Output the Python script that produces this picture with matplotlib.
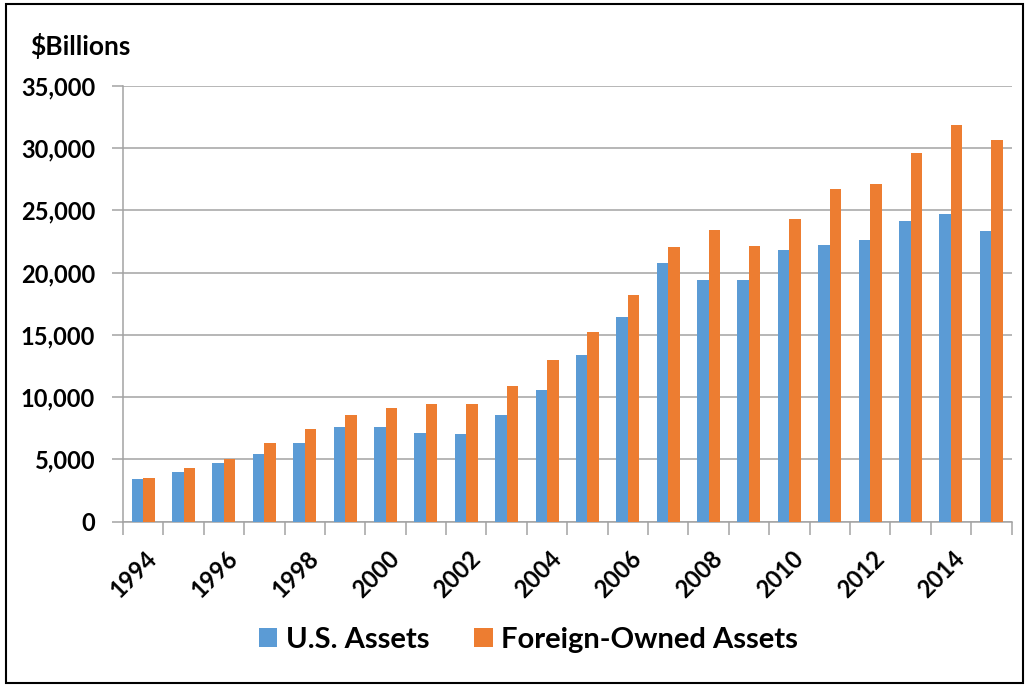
import matplotlib
matplotlib.use("Agg")
import matplotlib.pyplot as plt
from matplotlib.patches import Rectangle
import numpy as np

years = list(range(1994, 2016))
us_assets = [3400, 4010, 4730, 5460, 6290, 7600, 7600, 7100, 7010, 8540, 10590,
             13360, 16450, 20760, 19420, 19430, 21780, 22200, 22600, 24160, 24740, 23320]
foreign_assets = [3480, 4310, 5010, 6290, 7420, 8560, 9150, 9450, 9450, 10890, 12950,
                  15200, 18190, 22020, 23400, 22100, 24260, 26720, 27120, 29610, 31850, 30620]
yticks = [0, 5000, 10000, 15000, 20000, 25000, 30000, 35000]
series_names = ["U.S. Assets", "Foreign-Owned Assets"]

BLUE = "#5B9BD5"
ORANGE = "#ED7D31"
GRID = "#A3A3A3"

plt.rcParams['font.family'] = ['Lato', 'DejaVu Sans']
plt.rcParams['font.weight'] = 'bold'

W, H = 1031, 686
fig = plt.figure(figsize=(W / 100, H / 100), dpi=100)
ax = fig.add_axes([123 / W, 1 - 521.7 / H, (1011.5 - 123) / W, (521.7 - 85.7) / H])

x = np.arange(len(years))
bw = 0.285
ax.bar(x - bw / 2, us_assets, bw, color=BLUE, label=series_names[0], zorder=3)
ax.bar(x + bw / 2, foreign_assets, bw, color=ORANGE, label=series_names[1], zorder=3)

ax.set_xlim(-0.5, len(years) - 0.5)
ax.set_ylim(0, 35000)
ax.set_yticks(yticks)
ax.set_yticklabels([f"{v:,}" for v in yticks], fontsize=17, fontweight='bold')
ax.yaxis.grid(True, color=GRID, linewidth=1.1, zorder=0)
ax.tick_params(axis='y', length=8, width=1.1, color=GRID, pad=12)

# category boundary ticks
ax.set_xticks(np.arange(-0.5, len(years) + 0.5, 1.0))
ax.set_xticklabels([])
ax.tick_params(axis='x', which='major', length=9, width=1.1, color=GRID)
ax.set_xticks(x[::2] + 0.05, minor=True)
ax.set_xticklabels([str(y) for y in years[::2]], minor=True, rotation=45,
                   ha='right', va='top', rotation_mode='anchor',
                   fontsize=17, fontweight='bold')
ax.tick_params(axis='x', which='minor', length=0, pad=18)

for s in ['top', 'right']:
    ax.spines[s].set_visible(False)
for s in ['left', 'bottom']:
    ax.spines[s].set_color(GRID)
    ax.spines[s].set_linewidth(1.1)

fig.text(30 / W, 1 - 46 / H, "$Billions", fontsize=19, fontweight='bold',
         ha='left', va='center')

handles, labels = ax.get_legend_handles_labels()
fig.legend(handles, labels, loc='center', bbox_to_anchor=(528.5 / W, 1 - 640 / H),
           ncol=2, frameon=False, prop={'size': 21, 'weight': 'bold'},
           handlelength=0.62, handleheight=0.62, handletextpad=0.3, columnspacing=1.55,
           borderpad=0.0, borderaxespad=0.0)

fig.patches.append(Rectangle((6 / W, 3 / H), (1023 - 6) / W, (682 - 3) / H,
                             transform=fig.transFigure, fill=False,
                             edgecolor='black', linewidth=1.5))

fig.savefig("out.png", dpi=100)
